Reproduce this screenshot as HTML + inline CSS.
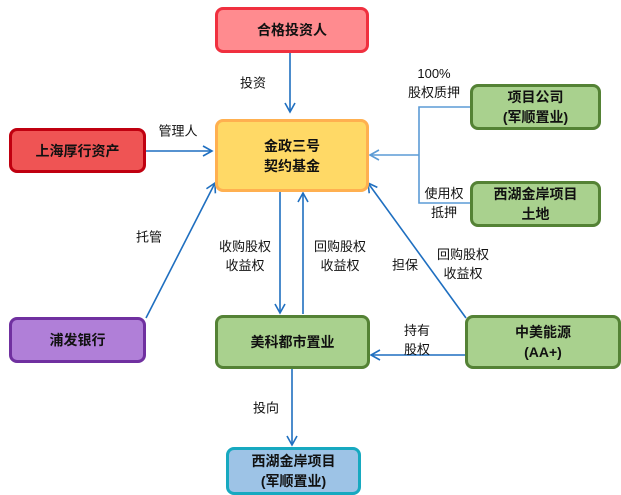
<!DOCTYPE html>
<html><head><meta charset="utf-8"><style>
body{margin:0;background:#fff;width:621px;height:495px;overflow:hidden;position:relative;font-family:"Liberation Sans","Noto Sans CJK SC",sans-serif}
.b{position:absolute;box-sizing:border-box;border:3px solid;border-radius:8px;display:flex;align-items:center;justify-content:center;text-align:center;font-weight:bold;font-size:14px;line-height:20px;color:#111}
.t{position:absolute;font-size:13px;line-height:19px;color:#111;text-align:center;white-space:nowrap;transform:translate(-50%,-50%)}
svg{position:absolute;left:0;top:0}
</style></head><body>
<svg width="621" height="495">
<defs><marker id="a" markerWidth="12" markerHeight="12" refX="10" refY="6" orient="auto" markerUnits="userSpaceOnUse"><path d="M1,1 L10,6 L1,11" fill="none" stroke="#1F6FC0" stroke-width="1.6"/></marker>
<marker id="c" markerWidth="12" markerHeight="12" refX="10" refY="6" orient="auto" markerUnits="userSpaceOnUse"><path d="M1,1 L10,6 L1,11" fill="none" stroke="#5B9BD5" stroke-width="1.6"/></marker></defs>
<g stroke="#1F6FC0" stroke-width="1.6" fill="none">
<line x1="290" y1="52" x2="290" y2="112" marker-end="url(#a)"/>
<line x1="145" y1="151" x2="212" y2="151" marker-end="url(#a)"/>
<line x1="146" y1="318" x2="215" y2="183" marker-end="url(#a)"/>
<line x1="280" y1="191" x2="280" y2="313" marker-end="url(#a)"/>
<line x1="303" y1="314" x2="303" y2="193" marker-end="url(#a)"/>
<line x1="466" y1="318" x2="368" y2="183" marker-end="url(#a)"/>
<line x1="465" y1="355" x2="371" y2="355" marker-end="url(#a)"/>
<line x1="292" y1="368" x2="292" y2="445" marker-end="url(#a)"/>
</g>
<g stroke="#5B9BD5" stroke-width="1.6" fill="none">
<polyline points="470,107 419,107 419,203 470,203"/>
<line x1="419" y1="155" x2="370" y2="155" marker-end="url(#c)"/>
</g>
</svg>
<div class="b" style="left:215px;top:7px;width:154px;height:46px;background:#FF8B8F;border-color:#F0303F">合格投资人</div>
<div class="b" style="left:215px;top:119px;width:154px;height:73px;background:#FFD966;border-color:#FFB050">金政三号<br>契约基金</div>
<div class="b" style="left:9px;top:128px;width:137px;height:45px;background:#EF5454;border-color:#C00010">上海厚行资产</div>
<div class="b" style="left:470px;top:84px;width:131px;height:46px;background:#A9D18E;border-color:#548235">项目公司<br>(军顺置业)</div>
<div class="b" style="left:470px;top:181px;width:131px;height:46px;background:#A9D18E;border-color:#548235">西湖金岸项目<br>土地</div>
<div class="b" style="left:9px;top:317px;width:137px;height:46px;background:#B07FD8;border-color:#7030A0">浦发银行</div>
<div class="b" style="left:215px;top:315px;width:155px;height:54px;background:#A9D18E;border-color:#548235">美科都市置业</div>
<div class="b" style="left:465px;top:315px;width:156px;height:54px;background:#A9D18E;border-color:#548235">中美能源<br>(AA+)</div>
<div class="b" style="left:226px;top:447px;width:135px;height:48px;background:#9DC3E6;border-color:#17A9C0">西湖金岸项目<br>(军顺置业)</div>
<div class="t" style="left:253px;top:83px">投资</div>
<div class="t" style="left:434px;top:83px">100%<br>股权质押</div>
<div class="t" style="left:178px;top:131px">管理人</div>
<div class="t" style="left:444px;top:203px">使用权<br>抵押</div>
<div class="t" style="left:149px;top:237px">托管</div>
<div class="t" style="left:245px;top:256px">收购股权<br>收益权</div>
<div class="t" style="left:340px;top:256px">回购股权<br>收益权</div>
<div class="t" style="left:405px;top:265px">担保</div>
<div class="t" style="left:463px;top:264px">回购股权<br>收益权</div>
<div class="t" style="left:266px;top:408px">投向</div>
<div class="t" style="left:417px;top:340px">持有<br>股权</div>
</body></html>
